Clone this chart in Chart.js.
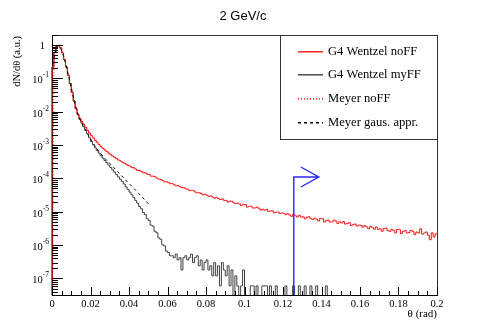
<!DOCTYPE html>
<html><head><meta charset="utf-8">
<script src="https://cdn.jsdelivr.net/npm/chart.js@4.4.1/dist/chart.umd.min.js"></script>
<style>html,body{margin:0;padding:0;background:#fff;}canvas{display:block;}</style>
</head><body>
<canvas id="c" width="491" height="332"></canvas>
<script>
const chartTitle = '2 GeV/c';
const xTitle = 'θ (rad)';
const yTitle = 'dN/dθ (a.u.)';
const seriesNames = ['G4 Wentzel noFF', 'G4 Wentzel myFF', 'Meyer noFF', 'Meyer gaus. appr.'];

// histogram bins: 0 .. 0.2 rad, width 0.001
const binWidth = 0.001;
const redHist = [
0.22,0.6,0.92,0.98,0.82,0.58,0.37,0.22,0.125,0.07,
0.038,0.021,0.0125,0.0084,0.0064,0.0051,0.0042,0.0034,0.0028,0.0023,
1.93e-3,1.66e-3,1.40e-3,1.21e-3,1.04e-3,9.0e-4,8.0e-4,7.2e-4,6.45e-4,5.7e-4,
5.15e-4,4.7e-4,4.33e-4,3.95e-4,3.61e-4,3.35e-4,3.1e-4,2.87e-4,2.7e-4,2.48e-4,
2.35e-4,2.14e-4,2.09e-4,1.91e-4,1.74e-4,1.74e-4,1.61e-4,1.48e-4,1.48e-4,1.35e-4,
1.30e-4,1.17e-4,1.17e-4,1.13e-4,1.02e-4,9.5e-5,9.4e-5,8.7e-5,7.9e-5,8.0e-5,
7.5e-5,6.95e-5,7.0e-5,6.5e-5,6.0e-5,6.1e-5,5.65e-5,5.3e-5,5.3e-5,4.87e-5,
4.76e-5,4.31e-5,4.41e-5,4.31e-5,3.91e-5,3.70e-5,3.74e-5,3.51e-5,3.2e-5,3.34e-5,
3.16e-5,2.90e-5,3.0e-5,2.78e-5,2.55e-5,2.71e-5,2.51e-5,2.33e-5,2.45e-5,2.21e-5,
2.19e-5,1.96e-5,2.08e-5,2.07e-5,1.85e-5,1.76e-5,1.82e-5,1.72e-5,1.54e-5,1.69e-5,
1.65e-5,1.38e-5,1.46e-5,1.47e-5,1.30e-5,1.30e-5,1.38e-5,1.28e-5,1.12e-5,1.20e-5,
1.12e-5,1.18e-5,1.03e-5,1.05e-5,1.07e-5,9.3e-6,9.7e-6,9.85e-6,8.9e-6,9.2e-6,
9.1e-6,8.2e-6,8.8e-6,8.1e-6,7.3e-6,8.3e-6,7.6e-6,6.97e-6,7.85e-6,6.9e-6,
7.1e-6,6.1e-6,6.9e-6,7.1e-6,6.2e-6,5.9e-6,6.4e-6,6.0e-6,5.3e-6,6.25e-6,
6.2e-6,4.93e-6,5.5e-6,5.67e-6,4.93e-6,5.02e-6,5.61e-6,5.26e-6,4.43e-6,5.0e-6,
4.65e-6,5.08e-6,4.29e-6,4.5e-6,4.69e-6,3.86e-6,4.12e-6,4.31e-6,3.74e-6,3.98e-6,
3.91e-6,3.45e-6,3.88e-6,3.51e-6,3.09e-6,3.69e-6,3.34e-6,3.01e-6,3.51e-6,2.99e-6,
3.12e-6,2.6e-6,3.11e-6,3.24e-6,2.75e-6,2.59e-6,2.96e-6,2.75e-6,2.34e-6,2.96e-6,
2.94e-6,2.22e-6,2.59e-6,2.73e-6,2.31e-6,2.38e-6,2.79e-6,2.6e-6,2.08e-6,2.48e-6,
2.3e-6,3.1e-6,2.14e-6,2.31e-6,2.48e-6,1.97e-6,1.45e-6,2.34e-6,1.75e-6,2.18e-6
];
const blackHist = [
0.22,0.6,0.92,0.98,0.82,0.58,0.37,0.22,0.125,0.07,
0.038,0.021,0.0123,0.0081,0.006,0.0046,3.55e-3,2.75e-3,2.14e-3,1.66e-3,
1.29e-3,1.02e-3,8.3e-4,6.9e-4,5.75e-4,4.8e-4,4.07e-4,3.47e-4,2.95e-4,2.51e-4,
2.14e-4,1.82e-4,1.55e-4,1.32e-4,1.12e-4,9.5e-5,8.1e-5,6.8e-5,5.6e-5,4.7e-5,
3.9e-5,3.24e-5,2.69e-5,2.19e-5,1.82e-5,1.44e-5,1.23e-5,9.5e-6,8.2e-6,6.2e-6,
5.5e-6,4.0e-6,3.7e-6,2.6e-6,2.35e-6,1.65e-6,1.5e-6,1.02e-6,9.5e-7,6.6e-7,
6.0e-7,4.8e-7,4.8e-7,4.2e-7,5.4e-7,3.6e-7,4.2e-7,1.8e-7,4.2e-7,4.8e-7,
3.6e-7,4.2e-7,5.4e-7,3.0e-7,4.2e-7,4.8e-7,2.4e-7,3.6e-7,1.8e-7,3.0e-7,
3.6e-7,1.8e-7,2.4e-7,1.2e-7,3.0e-7,1.2e-7,2.4e-7,6e-8,3.0e-7,1.8e-7,
1.2e-7,2.4e-7,6e-8,1.8e-7,0,1.2e-7,6e-8,0,6e-8,1.8e-7,
0,0,0,6e-8,6e-8,0,6e-8,0,0,6e-8,
6e-8,6e-8,0,6e-8,0,0,6e-8,0,0,0,
0,6e-8,0,0,0,6e-8,0,0,6e-8,0,
0,6e-8,0,0,6e-8,0,0,6e-8,0,0,
0,0,6e-8,0,0,0,0,0,0,0,
0,0,0,0,0,0,0,0,0,0,
0,0,0,0,0,0,0,0,0,0,
0,0,0,0,0,0,0,0,0,0,
0,0,0,0,0,0,0,0,0,0,
0,0,0,0,0,0,0,0,0,0
];
const meyerNoFFTheta = [0,0.001,0.002,0.003,0.004,0.005,0.006,0.007,0.008,0.009,0.010,0.011,0.012,0.013,0.014,0.015,0.016,0.017,0.018,0.019,0.020,0.025,0.030,0.035,0.040,0.045,0.050];
const meyerNoFF = [0,0.40,0.78,0.97,0.92,0.70,0.47,0.29,0.17,0.097,0.054,0.03,0.0168,0.0103,0.0073,0.0057,0.0046,0.0038,0.0031,0.0025,2.07e-3,9.5e-4,5.4e-4,3.47e-4,2.4e-4,1.74e-4,1.32e-4];
const meyerGausTheta = [0.001,0.002,0.003,0.004,0.005,0.006,0.007,0.008,0.009,0.010,
0.011,0.012,0.013,0.014,0.015,0.016,0.017,0.018,0.019,0.020,
0.021,0.022,0.023,0.024,0.025,0.026,0.027,0.028,0.029,0.030,
0.031,0.032,0.033,0.034,0.035,0.036,0.037,0.038,0.039,0.040,
0.041,0.042,0.043,0.044,0.045,0.046,0.047,0.048,0.049,0.050];
const meyerGaus = [0.40,0.78,0.97,0.92,0.70,0.47,0.29,0.17,0.095,0.052,
0.029,0.0165,0.0102,0.0069,0.0051,0.0039,0.0031,0.0025,0.00195,1.55e-3,
1.23e-3,1.0e-3,8.3e-4,6.9e-4,5.9e-4,5.0e-4,4.27e-4,3.72e-4,3.24e-4,2.82e-4,
2.45e-4,2.14e-4,1.86e-4,1.62e-4,1.41e-4,1.23e-4,1.07e-4,9.3e-5,8.1e-5,7.1e-5,
6.2e-5,5.4e-5,4.7e-5,4.1e-5,3.55e-5,3.1e-5,2.7e-5,2.34e-5,2.04e-5,1.74e-5];

const xTickValues = [0,0.02,0.04,0.06,0.08,0.1,0.12,0.14,0.16,0.18,0.2];
const xTickLabels = ['0','0.02','0.04','0.06','0.08','0.1','0.12','0.14','0.16','0.18','0.2'];
const yTickValues = [1,1e-1,1e-2,1e-3,1e-4,1e-5,1e-6,1e-7];
const yTickBase = ['1','10','10','10','10','10','10','10'];
const yTickExp  = ['','-1','-2','-3','-4','-5','-6','-7'];
const markerTheta = 0.125;
const markerLevel = 1e-4;

const X_MIN = 0, X_MAX = 0.2, Y_MIN = 3.2e-8, Y_MAX = 2;
const ZERO_FLOOR = 1e-12; // empty bins drawn to the bottom of the log axis

function histPoints(vals) {
  const pts = [{x: 0, y: ZERO_FLOOR}];
  vals.forEach((v, i) => pts.push({x: i * binWidth, y: v > 0 ? v : ZERO_FLOOR}));
  pts.push({x: vals.length * binWidth, y: vals[vals.length - 1] > 0 ? vals[vals.length - 1] : ZERO_FLOOR});
  return pts;
}
function curvePoints(xs, ys) {
  return xs.map((t, i) => ({x: t, y: ys[i] > 0 ? ys[i] : ZERO_FLOOR}));
}

const RED = '#ff1414';
const GREY = '#404040';
const BLUE = '#2828ff';
const SERIF = '"Liberation Serif", "Times New Roman", serif';
const SANS = '"Liberation Sans", Arial, sans-serif';

const legendItems = [
  {label: seriesNames[0], color: RED, dash: []},
  {label: seriesNames[1], color: GREY, dash: []},
  {label: seriesNames[2], color: RED, dash: [1, 2]},
  {label: seriesNames[3], color: '#000000', dash: [3, 3]}
];

const decor = {
  id: 'decor',
  beforeDatasetsDraw(chart) {
    const {ctx, chartArea: a} = chart;
    ctx.save();
    const L = Math.round(a.left), R = Math.round(a.right);
    const T = Math.round(a.top), B = Math.round(a.bottom);
    ctx.fillStyle = '#333';
    ctx.fillRect(L, T, R - L + 1, 1);
    ctx.fillRect(R, T, 1, B - T + 1);
    ctx.fillStyle = '#000';
    ctx.fillRect(L, B, R - L + 1, 1);
    ctx.fillRect(L, T, 1, B - T + 1);
    ctx.restore();
  },
  afterDatasetsDraw(chart) {
    const {ctx, chartArea: a, scales: {x, y}} = chart;
    ctx.save();
    ctx.fillStyle = '#000';
    const B = Math.round(a.bottom), L = Math.round(a.left);
    ctx.fillRect(L, B, Math.round(a.right) - L + 1, 1);
    for (let i = 0; i <= 40; i++) {
      const px = Math.round(x.getPixelForValue(i * 0.005));
      const len = (i % 4 === 0) ? 8 : 4;
      ctx.fillRect(px, B - len, 1, len);
    }
    for (let n = -8; n <= 0; n++) {
      for (let k = 1; k <= 9; k++) {
        const v = k * Math.pow(10, n);
        if (v < Y_MIN || v > Y_MAX * 1.001) continue;
        const py = Math.round(y.getPixelForValue(v));
        const len = (k === 1) ? 11 : 6;
        ctx.fillRect(L, py, len, 1);
      }
    }
    // marker arrow
    const mx = Math.round(x.getPixelForValue(markerTheta)) + 0.8;
    const my = Math.round(y.getPixelForValue(markerLevel)) - 1;
    ctx.strokeStyle = BLUE;
    ctx.lineWidth = 1.4;
    ctx.setLineDash([]);
    ctx.beginPath();
    ctx.moveTo(mx, B); ctx.lineTo(mx, my); ctx.lineTo(mx + 25, my);
    ctx.moveTo(mx + 7, my - 10); ctx.lineTo(mx + 25, my); ctx.lineTo(mx + 7, my + 10);
    ctx.stroke();
    ctx.restore();
  },
  afterDraw(chart) {
    const {ctx, chartArea: a, scales: {x, y}} = chart;
    ctx.save();
    ctx.fillStyle = '#000';
    // title
    ctx.font = '13px ' + SANS;
    ctx.textAlign = 'center';
    ctx.textBaseline = 'alphabetic';
    ctx.fillText(chartTitle, 243, 19.5);
    // x tick labels
    ctx.font = '10.5px ' + SERIF;
    xTickValues.forEach((v, i) => {
      ctx.fillText(xTickLabels[i], x.getPixelForValue(v), 307);
    });
    // x title
    ctx.font = '11px ' + SERIF;
    ctx.textAlign = 'right';
    ctx.fillText(xTitle, a.right, 317);
    // y tick labels
    yTickValues.forEach((v, i) => {
      const py = y.getPixelForValue(v);
      if (!yTickExp[i]) {
        ctx.font = '10.5px ' + SERIF;
        ctx.textAlign = 'right';
        ctx.fillText(yTickBase[i], 45, py + 4);
      } else {
        ctx.font = '7.5px ' + SERIF;
        const we = ctx.measureText(yTickExp[i]).width;
        ctx.textAlign = 'left';
        ctx.fillText(yTickExp[i], 49 - we, py - 1);
        ctx.font = '10.5px ' + SERIF;
        const wb = ctx.measureText(yTickBase[i]).width;
        ctx.fillText(yTickBase[i], 49 - we - wb, py + 5);
      }
    });
    // y title
    ctx.save();
    ctx.translate(17, 36);
    ctx.rotate(-Math.PI / 2);
    ctx.font = '10.5px ' + SERIF;
    ctx.textAlign = 'right';
    ctx.textBaseline = 'middle';
    ctx.fillText(yTitle, 0, 0);
    ctx.restore();
    // legend
    const lx = 280, ly = Math.round(a.top), lr = Math.round(a.right), lb = 139;
    ctx.fillStyle = '#fff';
    ctx.fillRect(lx, ly, lr - lx, lb - ly);
    ctx.fillStyle = '#333';
    ctx.fillRect(lx, ly, lr - lx + 1, 1);
    ctx.fillRect(lx, lb, lr - lx + 1, 1);
    ctx.fillRect(lx, ly, 1, lb - ly + 1);
    ctx.fillRect(lr, ly, 1, lb - ly + 1);
    const rows = [51, 74, 98, 122];
    legendItems.forEach((it, i) => {
      const ry = rows[i];
      ctx.strokeStyle = it.color;
      ctx.lineWidth = 1.4;
      ctx.setLineDash(it.dash);
      ctx.beginPath();
      ctx.moveTo(298, ry + 0.8); ctx.lineTo(323, ry + 0.8);
      ctx.stroke();
      ctx.setLineDash([]);
      ctx.fillStyle = '#000';
      ctx.font = '12.6px ' + SERIF;
      ctx.textAlign = 'left';
      ctx.textBaseline = 'middle';
      ctx.fillText(it.label, 328, ry + 1);
    });
    ctx.restore();
  }
};

const clipArea = {left: 2, top: 2, right: 1, bottom: 0};

new Chart(document.getElementById('c'), {
  type: 'line',
  data: {
    datasets: [
      {label: seriesNames[3], data: curvePoints(meyerGausTheta, meyerGaus), borderColor: '#000', borderWidth: 1, borderDash: [3, 3], order: 0, clip: clipArea},
      {label: seriesNames[2], data: curvePoints(meyerNoFFTheta, meyerNoFF), borderColor: RED, borderWidth: 1, borderDash: [1, 2], order: 1, clip: clipArea},
      {label: seriesNames[0], data: histPoints(redHist), borderColor: RED, borderWidth: 1, stepped: 'before', order: 2, clip: clipArea},
      {label: seriesNames[1], data: histPoints(blackHist), borderColor: GREY, borderWidth: 1, stepped: 'before', order: 3, clip: clipArea}
    ]
  },
  options: {
    responsive: false,
    animation: false,
    devicePixelRatio: 1,
    layout: {padding: {left: 52, top: 35, right: 54, bottom: 37}},
    plugins: {legend: {display: false}, tooltip: {enabled: false}, title: {display: false}},
    elements: {point: {radius: 0}, line: {tension: 0, fill: false}},
    scales: {
      x: {type: 'linear', min: X_MIN, max: X_MAX, display: false},
      y: {type: 'logarithmic', min: Y_MIN, max: Y_MAX, bounds: 'data', display: false}
    }
  },
  plugins: [decor]
});
</script>
</body></html>
